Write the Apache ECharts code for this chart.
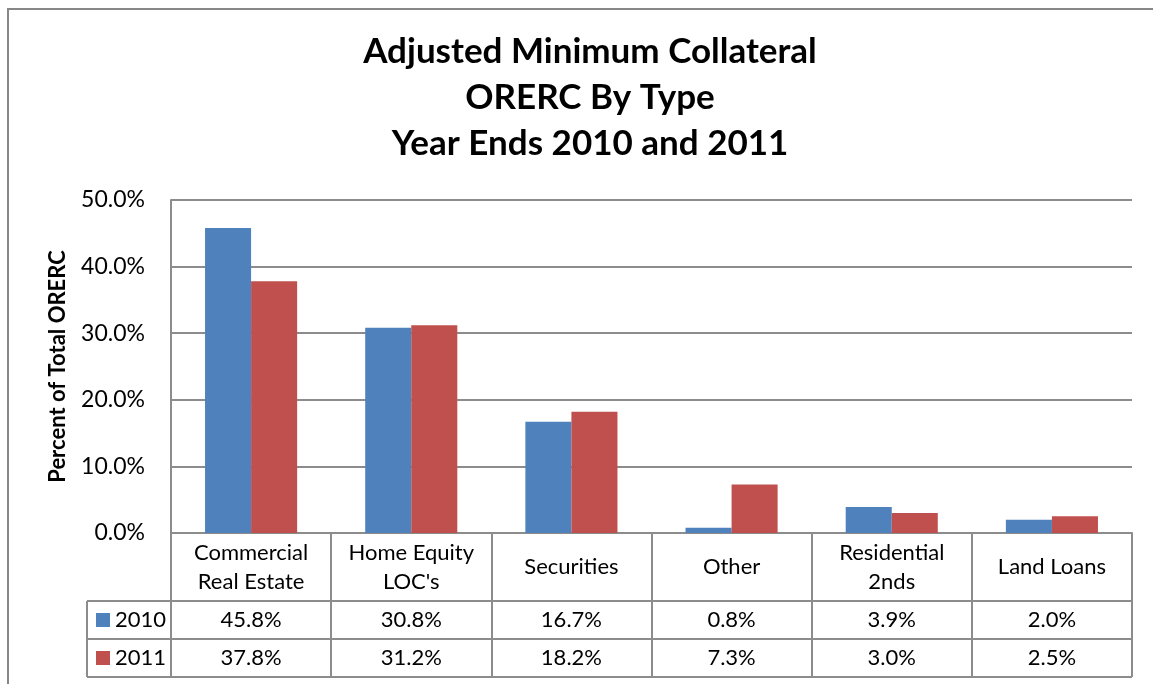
<!DOCTYPE html>
<html>
<head>
<meta charset="utf-8">
<script src="https://cdn.jsdelivr.net/npm/echarts@6/dist/echarts.min.js"></script>
<style>html,body{margin:0;padding:0;background:#fff}#c{width:1153px;height:684px}</style>
</head>
<body>
<div id="c"></div>
<script>
const categories = ['Commercial\nReal Estate', "Home Equity\nLOC's", 'Securities', 'Other', 'Residential\n2nds', 'Land Loans'];
const seriesNames = ['2010', '2011'];
const values2010 = [45.8, 30.8, 16.7, 0.8, 3.9, 2.0];
const values2011 = [37.8, 31.2, 18.2, 7.3, 3.0, 2.5];
const yTicks = [0, 10, 20, 30, 40, 50];
const colors = ['#4F81BD', '#C0504D'];

const W = 1153, H = 684;
const GL = 171, GR = 1132, GT = 200, GB = 533;
const ROW1 = 601, ROW2 = 639, ROW3 = 677, LEGX = 87;
const LINE = '#8c8c8c';
const FONT = 'Lato';

const chart = echarts.init(document.getElementById('c'), null, {renderer: 'canvas'});
const catW = (GR - GL) / categories.length;
const allVals = [values2010, values2011];

const graphics = [];
// outer border
graphics.push({type: 'rect', shape: {x: 8, y: 9, width: 1170, height: 700}, style: {fill: 'none', stroke: '#878787', lineWidth: 2}, silent: true});
// table horizontal lines
[ROW1, ROW2, ROW3].forEach(y => graphics.push({type: 'line', shape: {x1: LEGX, y1: y, x2: GR, y2: y}, style: {stroke: LINE, lineWidth: 2}, silent: true}));
graphics.push({type: 'line', shape: {x1: LEGX, y1: ROW1, x2: LEGX, y2: ROW3}, style: {stroke: LINE, lineWidth: 2}, silent: true});
// legend keys + row values
const rowCenters = [(ROW1 + ROW2) / 2, (ROW2 + ROW3) / 2];
seriesNames.forEach((nm, r) => {
  graphics.push({type: 'rect', shape: {x: 96, y: rowCenters[r] - 7, width: 14, height: 14}, style: {fill: colors[r]}, silent: true});
  graphics.push({type: 'text', x: 115, y: rowCenters[r], style: {text: nm, font: '22px ' + FONT, fill: '#000', textVerticalAlign: 'middle', textAlign: 'left'}, silent: true});
  allVals[r].forEach((v, i) => {
    graphics.push({type: 'text', x: GL + catW * (i + 0.5), y: rowCenters[r], style: {text: v.toFixed(1) + '%', font: '22px ' + FONT, fill: '#000', textVerticalAlign: 'middle', textAlign: 'center'}, silent: true});
  });
});

chart.setOption({
  animation: false,
  title: {
    text: 'Adjusted Minimum Collateral\nORERC By Type\nYear Ends 2010 and 2011',
    left: 585, top: 24, textAlign: 'center',
    textStyle: {fontFamily: FONT, fontWeight: 'bold', fontSize: 35, lineHeight: 46, color: '#000'}
  },
  grid: {left: GL, right: W - GR, top: GT, bottom: H - GB, containLabel: false},
  xAxis: {
    type: 'category', data: categories,
    axisLine: {show: true, lineStyle: {color: LINE, width: 2}},
    axisTick: {show: true, length: ROW3 - GB, lineStyle: {color: LINE, width: 2}},
    axisLabel: {interval: 0, fontFamily: FONT, fontSize: 22, color: '#000', lineHeight: 29, margin: 34, verticalAlign: 'middle'}
  },
  yAxis: {
    type: 'value', min: 0, max: 50, interval: 10,
    name: 'Percent of Total ORERC', nameLocation: 'middle', nameGap: 102,
    nameTextStyle: {fontFamily: FONT, fontWeight: 'bold', fontSize: 22, color: '#000'},
    axisLine: {show: true, lineStyle: {color: LINE, width: 2}},
    axisTick: {show: false},
    splitLine: {lineStyle: {color: LINE, width: 2}},
    axisLabel: {fontFamily: FONT, fontSize: 23, color: '#000', margin: 26, formatter: v => yTicks.includes(v) ? v.toFixed(1) + '%' : ''}
  },
  series: [
    {name: seriesNames[0], type: 'bar', data: values2010, barGap: '0%', barCategoryGap: '42.5%', itemStyle: {color: colors[0]}},
    {name: seriesNames[1], type: 'bar', data: values2011, barGap: '0%', barCategoryGap: '42.5%', itemStyle: {color: colors[1]}}
  ],
  graphic: graphics
});
</script>
</body>
</html>
